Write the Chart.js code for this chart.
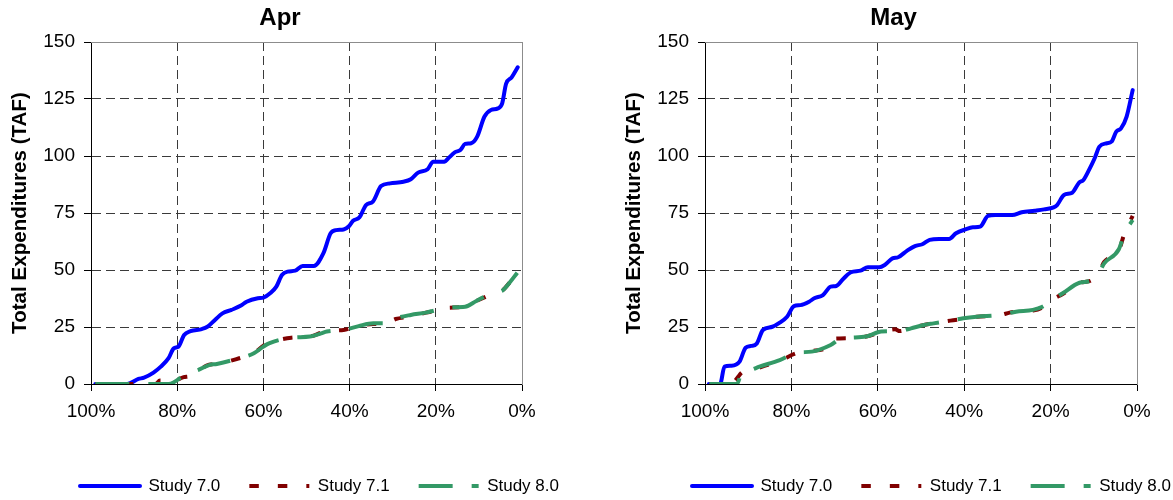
<!DOCTYPE html>
<html><head><meta charset="utf-8">
<script src="https://cdn.jsdelivr.net/npm/chart.js@4.4.0/dist/chart.umd.min.js"></script>
<style>
html,body{margin:0;padding:0;background:#fff;overflow:hidden;width:1173px;height:500px;}
.box{position:absolute;top:0;height:500px;}
#b1{left:0;width:560px;}
#b2{left:614px;width:559px;}
</style></head><body>
<div class="box" id="b1"><canvas id="c1"></canvas></div>
<div class="box" id="b2"><canvas id="c2"></canvas></div>
<script>
const FONT = "'Liberation Sans', Arial, sans-serif";
const seriesNames = ['Study 7.0', 'Study 7.1', 'Study 8.0'];
const chartTitles = ['Apr', 'May'];
const yAxisTitle = 'Total Expenditures (TAF)';
const xTicks = [100, 80, 60, 40, 20, 0];
const yTicks = [0, 25, 50, 75, 100, 125, 150];

// April
const aprPct70 = [99, 91.6, 89, 87.7, 85.5, 83.8, 82, 80.8, 79.7, 78.4, 76.9, 74.3, 73, 71.3, 69.5, 67.4, 65.2, 63.9, 61.3, 60, 58.3, 57, 55.7, 54.4, 52.6, 50.9, 48.3, 46.1, 44.4, 43.1, 41.4, 40.1, 39.2, 37.7, 36.2, 34.6, 32.7, 30.6, 27.5, 25.8, 24.1, 21.9, 20.6, 18, 17.1, 15.6, 14.3, 13.2, 11.8, 10.4, 8.7, 7.2, 5.6, 4.6, 3.7, 2.4, 1];
const aprVal70 = [0, 0, 2.2, 2.8, 5, 7.6, 11.3, 15.6, 16.4, 21.5, 23.2, 24.1, 25.1, 28, 31, 32.5, 34.4, 36.1, 37.6, 37.9, 40, 42.7, 47.8, 49.3, 49.7, 51.8, 51.8, 57.3, 66.1, 67.5, 67.8, 69.3, 71.6, 73.1, 78.5, 80, 86.8, 88, 88.7, 89.8, 92.7, 94.2, 97.5, 97.5, 99, 101.6, 102.6, 105.3, 105.6, 108.5, 117.3, 120.2, 120.9, 123.1, 131.6, 134.5, 138.9];
const aprPct71 = [99, 85, 84, 83, 82, 78.5, 77, 75, 72.6, 70.8, 65.6, 62.2, 60, 58.8, 53.5, 49.2, 46.6, 45.3, 41.4, 37.9, 34.5, 32, 29.3, 26, 22.3, 19.7, 17.6, 13.2, 12.5, 10.6, 6.8, 4.6, 2.9, 1.1];
const aprVal71 = [0, 0, 1.5, 1.5, 0.5, 3, 3.5, 6, 8.5, 8.8, 11.3, 13.5, 16.8, 18, 20.3, 20.8, 22.5, 23.2, 23.7, 25.4, 26.3, 26.2, 28.5, 29.5, 31.3, 32.2, 33.4, 33.9, 34.8, 36.4, 39.5, 40.9, 44.4, 48];
const aprPct80 = [99, 84, 82, 77.7, 75.2, 72.6, 70.8, 65.6, 62.2, 60, 58.7, 53.5, 49.2, 46.6, 45.3, 41.4, 37.9, 34.5, 31.9, 29.3, 25.8, 22.3, 19.7, 17.6, 13.2, 10.6, 6.8, 4.6, 2.9, 1.1];
const aprVal80 = [0, 0, 0, 4.7, 6.1, 8.3, 8.8, 11.3, 13.5, 16.4, 17.8, 20.3, 20.8, 22.2, 23, 23.7, 25.4, 26.6, 26.6, 28.8, 30.3, 31.3, 32.5, 33.6, 33.9, 36.4, 40, 40.9, 44.4, 48.8];

// May
const mayPct70 = [99.1, 96.5, 95.5, 93.9, 92, 90.6, 89.3, 88, 86.6, 84.4, 82.7, 81, 79.4, 77.9, 75.9, 74.7, 72.7, 70.9, 69.6, 67.9, 66.2, 64, 62.3, 59.7, 58.4, 56.6, 55.3, 53.2, 51.4, 49.7, 48, 45.8, 43.5, 41.9, 39.7, 38, 36.3, 34.5, 32.8, 28.9, 26.7, 23.7, 21.5, 19.3, 18.5, 16.9, 15, 13.4, 12.4, 11.1, 9.8, 8.7, 7, 5.9, 4.8, 3.7, 2.4, 1];
const mayVal70 = [0, 0, 7.6, 8, 9.8, 15.9, 16.7, 17.8, 23.7, 25.1, 26.9, 29.5, 34.2, 34.6, 36.1, 37.6, 39, 42.7, 43, 46.3, 49, 49.7, 51.2, 51.2, 52.2, 55.1, 55.6, 58.5, 60.5, 61.3, 63.2, 63.6, 63.6, 66.1, 67.8, 68.7, 69, 73.7, 74.1, 74.1, 75.3, 76, 76.6, 77.5, 78.5, 82.9, 83.9, 88.3, 89.5, 93.9, 99, 104.1, 105.6, 106.3, 110.7, 112.1, 117.3, 128.9];
const mayPct71 = [99, 95, 94, 93.3, 92.6, 91.5, 89.6, 87.4, 82.7, 78.8, 75.3, 71, 70.5, 68.8, 62.7, 59.2, 56, 54.9, 52.3, 49.3, 47.1, 43.2, 40.2, 37.1, 31.5, 29.5, 28, 24.1, 21.9, 19.8, 17.2, 13.3, 10.7, 8.9, 7.6, 4.2, 2.9, 1];
const mayVal71 = [0, 0, 1.8, 1.2, 2.5, 5, 6.1, 7.2, 10.2, 13.5, 14.5, 17, 19.8, 20, 20.8, 22.8, 24, 23.2, 24.6, 25.9, 26.6, 27.8, 28.6, 29.5, 30.3, 31.3, 31.7, 32.2, 33.6, 36.8, 39.5, 44.4, 45.3, 48.5, 53.5, 58.5, 66.1, 73.7];
const mayPct80 = [99, 93.5, 92.6, 91.5, 89.6, 87.4, 82.7, 78.8, 75.3, 70.9, 68.8, 62.7, 59.2, 54.9, 52.3, 49.3, 47.1, 43.2, 40.2, 37.1, 31.5, 28, 24.1, 21.9, 19.8, 17.2, 13.3, 10.7, 8.9, 7.6, 4.2, 2.9, 1];
const mayVal80 = [0, 0, 0, 5, 6.1, 7.6, 10.5, 13.7, 14.2, 17.1, 19.6, 20.8, 23, 23.2, 24.4, 25.9, 26.6, 27.8, 28.8, 29.5, 30.3, 31.7, 32.5, 33.9, 36.8, 39.8, 44.4, 45.3, 48.5, 52.9, 59.1, 66.1, 71.9];

function pts(p, v) {
  const n = Math.min(p.length, v.length), out = [];
  for (let i = 0; i < n; i++) out.push({x: p[i], y: v[i]});
  return out;
}

const styles = [
  {color: '#0000FF', dash: [], cap: 'round', order: 2},
  {color: '#800000', dash: [9.5, 19], cap: 'butt', order: 1},
  {color: '#339966', dash: [34, 19], cap: 'butt', order: 0}
];

const legendShift = {
  id: 'legendShift',
  afterLayout(chart, args, opts) {
    const lg = chart.legend;
    if (!lg) return;
    lg.left += opts.dx; lg.right += opts.dx;
    lg.top += opts.dy; lg.bottom += opts.dy;
  }
};

function build(id, title, series, rightW, dx) {
  const datasets = series.map((s, i) => ({
    label: seriesNames[i],
    data: pts(s[0], s[1]),
    borderColor: styles[i].color,
    backgroundColor: styles[i].color,
    borderWidth: 4,
    borderDash: styles[i].dash,
    borderCapStyle: styles[i].cap,
    borderJoinStyle: 'round',
    pointRadius: 0,
    pointHoverRadius: 0,
    pointStyle: 'line',
    cubicInterpolationMode: 'monotone',
    fill: false,
    order: styles[i].order
  }));
  const edgeColor = (edges) => (ctx) => (ctx.tick && edges.includes(ctx.tick.value)) ? 'rgba(0,0,0,0)' : '#3a3a3a';
  return new Chart(document.getElementById(id), {
    type: 'line',
    data: {datasets},
    plugins: [legendShift],
    options: {
      responsive: true,
      maintainAspectRatio: false,
      animation: false,
      events: [],
      layout: {padding: {left: 0, right: 0, top: 0, bottom: 0}},
      plugins: {
        legendShift: {dx: dx, dy: 4.5},
        tooltip: {enabled: false},
        title: {
          display: true, text: title, color: '#000',
          font: {family: FONT, size: 24, weight: 'bold'},
          padding: {top: 4, bottom: 9.2}
        },
        legend: {
          position: 'bottom', align: 'start',
          labels: {
            usePointStyle: true, pointStyleWidth: 60, padding: 29,
            color: '#000', font: {family: FONT, size: 17},
            sort: (a, b) => a.datasetIndex - b.datasetIndex,
            generateLabels(chart) {
              const items = Chart.defaults.plugins.legend.labels.generateLabels(chart);
              items.forEach(it => {
                const ds = chart.data.datasets[it.datasetIndex];
                it.lineDash = ds.borderDash || [];
                it.lineWidth = ds.borderWidth;
                it.strokeStyle = ds.borderColor;
                it.fillStyle = ds.borderColor;
                it.lineCap = ds.borderCapStyle;
                it.pointStyle = 'line';
              });
              return items;
            }
          }
        }
      },
      scales: {
        x: {
          type: 'linear', reverse: true, min: 0, max: 100,
          afterBuildTicks: s => { s.ticks = xTicks.map(v => ({value: v})); },
          afterFit: s => { s.height = 60; },
          ticks: {color: '#000', font: {family: FONT, size: 19}, padding: 9, maxRotation: 0, autoSkip: false,
                  callback: v => v + '%'},
          grid: {color: edgeColor([0, 100]), lineWidth: 1, tickLength: 7, tickColor: '#000', tickBorderDash: []},
          border: {color: '#000', width: 1, dash: [9, 5]}
        },
        y: {
          min: 0, max: 150,
          afterBuildTicks: s => { s.ticks = yTicks.map(v => ({value: v})); },
          afterFit: s => { s.width = 91; },
          ticks: {color: '#000', font: {family: FONT, size: 19}, padding: 9},
          grid: {color: edgeColor([0, 150]), lineWidth: 1, tickLength: 7, tickColor: '#000', tickBorderDash: []},
          border: {color: '#000', width: 1, dash: [9, 5]},
          title: {display: true, text: yAxisTitle, color: '#000',
                  font: {family: FONT, size: 20.6, weight: 'bold'}, padding: {top: 8, bottom: 0}}
        },
        x2: {
          type: 'linear', position: 'top', min: 0, max: 1,
          ticks: {display: false}, grid: {display: false, drawTicks: false},
          border: {display: true, color: '#8c8c8c', width: 1},
          afterFit: s => { s.height = 0; }
        },
        y2: {
          type: 'linear', position: 'right', min: 0, max: 1,
          ticks: {display: false}, grid: {display: false, drawTicks: false},
          border: {display: true, color: '#8c8c8c', width: 1},
          afterFit: s => { s.width = rightW; }
        }
      }
    }
  });
}

build('c1', chartTitles[0], [[aprPct70, aprVal70], [aprPct71, aprVal71], [aprPct80, aprVal80]], 38, 51);
build('c2', chartTitles[1], [[mayPct70, mayVal70], [mayPct71, mayVal71], [mayPct80, mayVal80]], 36, 49);
</script>
</body></html>
